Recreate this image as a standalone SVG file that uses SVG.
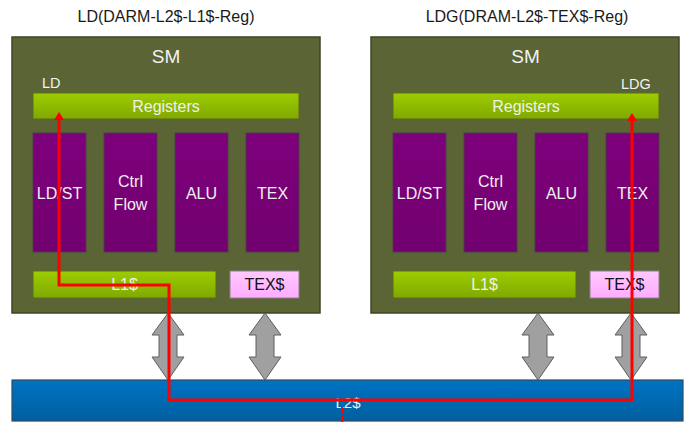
<svg xmlns="http://www.w3.org/2000/svg" width="688" height="424" viewBox="0 0 688 424">
  <defs>
    <linearGradient id="gGreen" x1="0" y1="0" x2="0" y2="1">
      <stop offset="0" stop-color="#9dcd00"/>
      <stop offset="1" stop-color="#80a800"/>
    </linearGradient>
    <linearGradient id="gPurple" x1="0" y1="0" x2="0" y2="1">
      <stop offset="0" stop-color="#7e007c"/>
      <stop offset="1" stop-color="#72006f"/>
    </linearGradient>
    <linearGradient id="gPink" x1="0" y1="0" x2="0" y2="1">
      <stop offset="0" stop-color="#ffc8ff"/>
      <stop offset="1" stop-color="#ffadff"/>
    </linearGradient>
    <linearGradient id="gBlue" x1="0" y1="0" x2="0" y2="1">
      <stop offset="0" stop-color="#0073c4"/>
      <stop offset="1" stop-color="#005f9f"/>
    </linearGradient>
    <!-- two-headed block arrow between SM and L2$, centred on x=0 -->
    <path id="dblArrow" d="M0,313 L16,335 L9,335 L9,357 L16,357 L0,380 L-16,357 L-9,357 L-9,335 L-16,335 Z"/>
    <marker id="redHead" viewBox="0 0 8 10" refX="0" refY="5" markerWidth="8" markerHeight="10" markerUnits="userSpaceOnUse" orient="auto-start-reverse">
      <path d="M0,0 L8,5 L0,10 Z" fill="#ff0000"/>
    </marker>
  </defs>
  <style>
    text { font-family: "Liberation Sans", Arial, sans-serif; }
    .title { font-size: 16px; fill: #1a1a1a; text-anchor: middle; }
    .sm { fill: #5a6434; stroke: #3e4525; stroke-width: 1.5; }
    .smlabel { font-size: 19px; fill: #f2f2f2; text-anchor: middle; }
    .tag { font-size: 14.5px; fill: #f2f2f2; }
    .green { fill: url(#gGreen); stroke: #5b6d1c; stroke-width: 1; }
    .unit { fill: url(#gPurple); stroke: #4a3d4a; stroke-width: 1; }
    .pink { fill: url(#gPink); stroke: #8c7f8c; stroke-width: 1; }
    .wlabel { font-size: 16px; fill: #f0f0f0; text-anchor: middle; }
    .blabel { font-size: 16px; fill: #111111; text-anchor: middle; }
    .l2 { fill: url(#gBlue); stroke: #2e4b66; stroke-width: 1.2; }
    .dbl { fill: #a0a0a0; stroke: #5e5e5e; stroke-width: 1; }
    .route { fill: none; stroke: #ff0000; stroke-width: 3; }
  </style>

  <!-- Titles -->
  <text class="title" x="166" y="22">LD(DARM-L2$-L1$-Reg)</text>
  <text class="title" x="527" y="22">LDG(DRAM-L2$-TEX$-Reg)</text>

  <!-- Left SM -->
  <g id="sm-left">
    <rect class="sm" x="12" y="37" width="308" height="276"/>
    <text class="smlabel" x="166" y="63">SM</text>
    <text class="tag" x="42" y="88">LD</text>
  </g>
  <g id="regs-left">
    <rect class="green" x="33" y="93" width="266" height="26"/>
    <text class="wlabel" x="166" y="111.5">Registers</text>
  </g>
  <g id="ldst-left">
    <rect class="unit" x="33" y="133" width="53" height="119"/>
    <text class="wlabel" x="59.5" y="199">LD/ST</text>
  </g>
  <g id="ctrl-left">
    <rect class="unit" x="104" y="133" width="53" height="119"/>
    <text class="wlabel" x="130.5" y="187">Ctrl</text>
    <text class="wlabel" x="130.5" y="210">Flow</text>
  </g>
  <g id="alu-left">
    <rect class="unit" x="175" y="133" width="53" height="119"/>
    <text class="wlabel" x="201.5" y="199">ALU</text>
  </g>
  <g id="tex-left">
    <rect class="unit" x="246" y="133" width="53" height="119"/>
    <text class="wlabel" x="272.5" y="199">TEX</text>
  </g>
  <g id="l1-left">
    <rect class="green" x="33" y="271" width="183" height="27"/>
    <text class="wlabel" x="124.5" y="290">L1$</text>
  </g>
  <g id="texcache-left">
    <rect class="pink" x="230" y="271" width="69" height="27"/>
    <text class="blabel" x="264.5" y="290">TEX$</text>
  </g>

  <!-- Right SM -->
  <g id="sm-right">
    <rect class="sm" x="371" y="37" width="308" height="276"/>
    <text class="smlabel" x="525.5" y="63">SM</text>
    <text class="tag" x="621" y="89">LDG</text>
  </g>
  <g id="regs-right">
    <rect class="green" x="393" y="93" width="266" height="26"/>
    <text class="wlabel" x="526" y="111.5">Registers</text>
  </g>
  <g id="ldst-right">
    <rect class="unit" x="393" y="133" width="53" height="119"/>
    <text class="wlabel" x="419.5" y="199">LD/ST</text>
  </g>
  <g id="ctrl-right">
    <rect class="unit" x="464" y="133" width="53" height="119"/>
    <text class="wlabel" x="490.5" y="187">Ctrl</text>
    <text class="wlabel" x="490.5" y="210">Flow</text>
  </g>
  <g id="alu-right">
    <rect class="unit" x="535" y="133" width="53" height="119"/>
    <text class="wlabel" x="561.5" y="199">ALU</text>
  </g>
  <g id="tex-right">
    <rect class="unit" x="606" y="133" width="53" height="119"/>
    <text class="wlabel" x="632.5" y="199">TEX</text>
  </g>
  <g id="l1-right">
    <rect class="green" x="393" y="271" width="183" height="27"/>
    <text class="wlabel" x="484.5" y="290">L1$</text>
  </g>
  <g id="texcache-right">
    <rect class="pink" x="590" y="271" width="69" height="27"/>
    <text class="blabel" x="624.5" y="290">TEX$</text>
  </g>

  <!-- Shared L2 cache -->
  <g id="l2">
    <rect class="l2" x="12" y="380" width="671" height="41"/>
    <text class="wlabel" x="348" y="408" style="font-size:15px">L2$</text>
  </g>

  <!-- Connectors -->
  <g id="connectors">
    <use href="#dblArrow" class="dbl" transform="translate(168,0)"/>
    <use href="#dblArrow" class="dbl" transform="translate(265,0)"/>
    <use href="#dblArrow" class="dbl" transform="translate(538,0)"/>
    <use href="#dblArrow" class="dbl" transform="translate(631,0)"/>
    <!-- load paths: L2$ -> L1$ -> Registers, and L2$ -> TEX$ -> Registers -->
    <path class="route" d="M59,120 V285 H169 V400 H632 V121" marker-start="url(#redHead)" marker-end="url(#redHead)"/>
    <line x1="342" y1="407" x2="342" y2="423" stroke="#ff0000" stroke-width="2" stroke-dasharray="6 3"/>
  </g>
</svg>
